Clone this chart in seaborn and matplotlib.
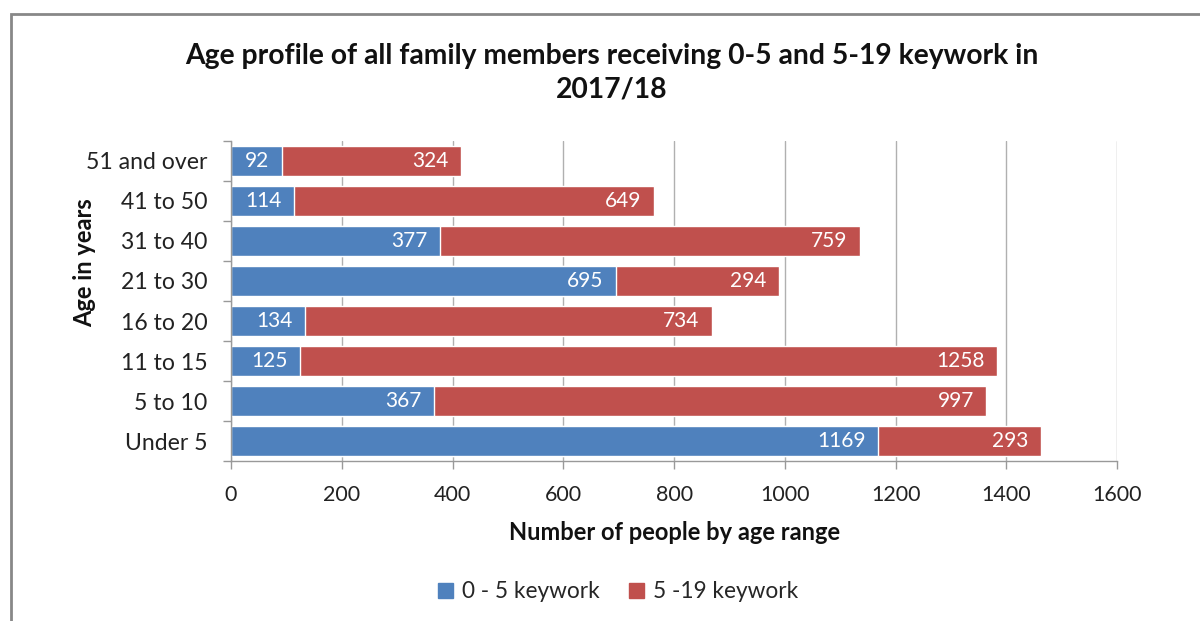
import numpy as np
import pandas as pd
import matplotlib
matplotlib.use("Agg")
import matplotlib.pyplot as plt
from matplotlib.patches import Rectangle, Patch
import seaborn as sns

ages = ["51 and over", "41 to 50", "31 to 40", "21 to 30",
        "16 to 20", "11 to 15", "5 to 10", "Under 5"]
keywork_0_5 = [92, 114, 377, 695, 134, 125, 367, 1169]
keywork_5_19 = [324, 649, 759, 294, 734, 1258, 997, 293]
series_names = ["0 - 5 keywork", "5 -19 keywork"]
x_ticks = [0, 200, 400, 600, 800, 1000, 1200, 1400, 1600]

blue = "#4F81BD"
red = "#C0504D"

sns.set_theme(style="white")
plt.rcParams["font.family"] = ["Lato", "DejaVu Sans"]

df = pd.DataFrame({"age": ages, "a": keywork_0_5, "b": keywork_5_19})
df["total"] = df["a"] + df["b"]

fig = plt.figure(figsize=(12, 6.21), dpi=100)
ax = fig.add_axes([0.1925, 0.2576, 0.931 - 0.1925, 0.773 - 0.2576])

# stacked: draw totals first (red), then the blue part over it
sns.barplot(data=df, y="age", x="total", color=red, orient="h",
            width=0.75, saturation=1, ax=ax, order=ages)
sns.barplot(data=df, y="age", x="a", color=blue, orient="h",
            width=0.75, saturation=1, ax=ax, order=ages)

for i, row in df.iterrows():
    ax.annotate(str(row["a"]), (row["a"], i), xytext=(-9, 0),
                textcoords="offset points", ha="right", va="center",
                color="white", fontsize=15)
    ax.annotate(str(row["b"]), (row["total"], i), xytext=(-9, 0),
                textcoords="offset points", ha="right", va="center",
                color="white", fontsize=15)

ax.set_xlim(0, 1600)
ax.set_ylim(7.5, -0.5)
ax.set_xticks(x_ticks)
ax.set_xticklabels([str(t) for t in x_ticks], fontsize=15.5, color="#222222")
ax.tick_params(axis="y", which="major", length=0, labelsize=16.6,
               labelcolor="#222222", pad=17)
ax.set_yticks(np.arange(-0.5, 8, 1), minor=True)
ax.tick_params(axis="y", which="minor", length=6, color="#999999",
               width=1, direction="out", left=True)
ax.tick_params(axis="x", length=6, color="#999999", width=1,
               direction="out", bottom=True, pad=11)
ax.grid(axis="x", color="#b0b0b0", linewidth=1)
ax.set_axisbelow(True)
for s in ["top", "right"]:
    ax.spines[s].set_visible(False)
for s in ["left", "bottom"]:
    ax.spines[s].set_color("#999999")
    ax.spines[s].set_linewidth(1)

ax.set_xlabel("Number of people by age range", fontsize=17,
              fontweight="bold", labelpad=12, color="#111111")
ax.set_ylabel("Age in years", fontsize=17, fontweight="bold",
              color="#111111")
ax.yaxis.set_label_coords(-0.152, 0.62)

fig.suptitle("Age profile of all family members receiving 0-5 and 5-19 keywork in\n2017/18",
             fontsize=20.3, fontweight="bold", y=0.93, x=0.51,
             linespacing=1.35, color="#111111")

handles = [Patch(color=blue, label=series_names[0]),
           Patch(color=red, label=series_names[1])]
fig.legend(handles=handles, loc="center", bbox_to_anchor=(0.515, 0.047),
           ncol=2, frameon=False, fontsize=16.3, handlelength=0.65,
           handleheight=0.65, handletextpad=0.4, columnspacing=1.3)

# chart border (cropped at right and bottom)
fig.patches.append(Rectangle((11 / 1200, -0.2), 1.2, (621 - 14) / 621 + 0.2,
                             transform=fig.transFigure, fill=False,
                             edgecolor="#888888", linewidth=2, zorder=10))

fig.savefig("out.png", dpi=100)
